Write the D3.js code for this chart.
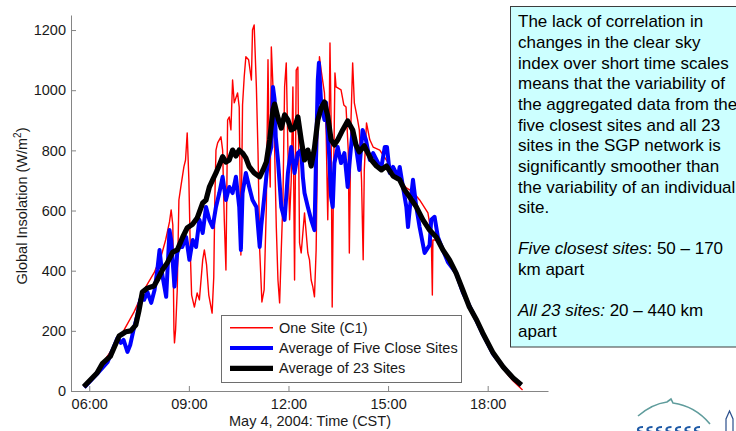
<!DOCTYPE html>
<html>
<head>
<meta charset="utf-8">
<script src="https://cdn.jsdelivr.net/npm/d3@7"></script>
<style>
  body { margin: 0; background: #fff; }
  svg { display: block; font-family: "Liberation Sans", Arial, sans-serif; }
</style>
</head>
<body>
<div id="chart"></div>
<script>
// One Site (C1)
var oneSiteTimes = ["05:51","06:18","06:38","07:03","07:21","07:39","07:58","08:10","08:18","08:25",
  "08:28","08:31","08:33","08:34","08:36","08:39","08:42","08:46","08:51","08:54",
  "08:57","09:00","09:03","09:05","09:10","09:15","09:19","09:25","09:28","09:32",
  "09:36","09:42","09:45","09:47","09:49","09:52","09:58","10:01","10:04","10:07",
  "10:10","10:13","10:16","10:19","10:22","10:28","10:31","10:34","10:37","10:40",
  "10:43","10:48","10:53","10:55","10:58","11:02","11:05","11:08","11:12","11:16",
  "11:20","11:23","11:25","11:27","11:29","11:32","11:35","11:38","11:41","11:44",
  "11:47","11:50","11:53","11:56","11:59","12:02","12:05","12:08","12:11","12:14",
  "12:17","12:20","12:23","12:29","12:35","12:38","12:41","12:44","12:47","12:50",
  "12:53","12:56","12:59","13:05","13:08","13:11","13:13","13:15","13:17","13:19",
  "13:21","13:24","13:26","13:35","13:40","13:44","13:48","13:50","13:53","13:56",
  "13:59","14:05","14:08","14:12","14:15","14:17","14:21","14:27","14:33","14:45",
  "14:57","15:09","15:21","15:33","15:45","15:57","16:12","16:18","16:20","16:21",
  "16:30","16:39","16:51","17:03","17:15","17:27","17:40","17:51","18:10","18:28",
  "18:46","19:03"];
var oneSiteValues = [12,76,130,203,263,336,396,449,502,562,
  602,552,203,160,203,336,635,685,745,768,
  858,702,436,319,279,326,303,436,469,419,
  319,259,379,645,801,825,845,801,569,402,
  901,911,868,1034,958,991,944,452,951,1044,
  1111,1101,1034,1200,1217,1011,791,469,296,336,
  612,1101,801,678,1144,1011,801,545,369,293,
  469,635,1011,1091,801,569,702,1011,369,1067,
  1077,492,459,592,459,436,369,346,313,469,
  901,1111,1067,991,868,569,801,1157,901,279,
  635,1057,1011,1001,951,944,801,459,901,1091,
  958,901,868,702,436,735,891,835,811,801,
  768,735,702,675,662,635,592,525,319,502,
  502,469,429,386,329,279,236,190,120,73,
  33,3];

// Average of Five Close Sites
var fiveSiteTimes = ["05:51","06:14","06:33","06:42","06:51","06:57","07:02","07:09","07:14","07:20",
  "07:27","07:32","07:39","07:45","07:52","07:58","08:03","08:07","08:12","08:19",
  "08:25","08:28","08:34","08:39","08:43","08:48","08:55","09:01","09:07","09:13",
  "09:19","09:25","09:31","09:37","09:43","09:49","09:55","10:01","10:07","10:13",
  "10:19","10:25","10:31","10:34","10:37","10:43","10:49","10:55","11:02","11:08",
  "11:11","11:17","11:23","11:29","11:32","11:35","11:37","11:41","11:47","11:53",
  "11:59","12:05","12:11","12:17","12:23","12:26","12:29","12:35","12:41","12:47",
  "12:50","12:53","12:55","12:59","13:05","13:08","13:14","13:17","13:20","13:23",
  "13:29","13:35","13:41","13:47","13:50","13:56","14:02","14:08","14:14","14:20",
  "14:27","14:33","14:42","14:48","14:54","14:58","15:03","15:09","15:18","15:21",
  "15:27","15:33","15:36","15:39","15:45","15:51","15:57","16:06","16:15","16:18",
  "16:24","16:30","16:39","16:48","17:03","17:15","17:27","17:40","17:51","18:10",
  "18:28","18:46","19:00"];
var fiveSiteValues = [12,57,96,136,176,160,170,130,153,203,
  253,303,303,329,293,336,402,469,386,313,
  535,502,347,459,480,479,512,436,502,479,
  569,525,612,569,545,612,658,712,635,678,
  658,712,612,469,658,725,678,635,612,479,
  552,658,768,811,1011,968,845,768,612,569,
  725,811,725,791,801,712,658,612,569,535,
  791,1034,1091,958,901,958,768,645,612,758,
  811,758,791,678,751,868,811,735,868,835,
  768,791,758,745,811,811,725,745,712,745,
  678,612,545,602,702,612,545,459,485,569,
  579,512,469,429,392,329,283,233,190,123,
  80,43,20];

// Average of 23 Sites
var allSiteTimes = ["05:50","06:14","06:24","06:38","06:54","07:06","07:15","07:24","07:30","07:36",
  "07:45","07:57","08:03","08:12","08:21","08:31","08:39","08:49","08:57","09:07",
  "09:15","09:25","09:31","09:37","09:43","09:49","09:55","10:01","10:07","10:13",
  "10:19","10:25","10:31","10:37","10:43","10:49","10:58","11:08","11:14","11:20",
  "11:26","11:32","11:35","11:41","11:47","11:53","11:59","12:05","12:11","12:17",
  "12:23","12:29","12:35","12:41","12:47","12:53","12:59","13:05","13:11","13:17",
  "13:23","13:29","13:38","13:47","13:56","14:02","14:08","14:17","14:30","14:39",
  "14:48","14:57","15:09","15:21","15:30","15:39","15:51","16:03","16:15","16:27",
  "16:39","16:51","17:03","17:15","17:27","17:40","17:51","18:10","18:28","18:46",
  "19:01"];
var allSiteValues = [14,60,92,115,183,197,200,219,269,329,
  342,349,369,402,426,462,469,512,542,555,
  575,625,635,678,702,725,751,779,761,768,
  801,781,801,791,775,746,725,712,735,761,
  835,934,954,908,874,918,901,868,874,911,
  835,768,801,748,808,901,941,961,914,835,
  818,835,868,898,868,818,795,815,768,748,
  735,748,715,702,668,645,612,569,535,512,
  469,436,392,336,279,236,193,126,80,43,
  20];

var seriesNames = ["One Site (C1)", "Average of Five Close Sites", "Average of 23 Sites"];
var seriesColors = ["#ff0000", "#0000ff", "#000000"];
var seriesWidths = [1.4, 4, 5.2];
var xTickLabels = ["06:00", "09:00", "12:00", "15:00", "18:00"];
var yTickValues = [0, 200, 400, 600, 800, 1000, 1200];

var noteLines = [
  [["The lack of correlation in", false]],
  [["changes in the clear sky", false]],
  [["index over short time scales", false]],
  [["means that the variability of", false]],
  [["the aggregated data from the", false]],
  [["five closest sites and all 23", false]],
  [["sites in the SGP network is", false]],
  [["significantly smoother than", false]],
  [["the variability of an individual", false]],
  [["site.", false]],
  [],
  [["Five closest sites", true], [": 50 \u2013 170", false]],
  [["km apart", false]],
  [],
  [["All 23 sites:", true], [" 20 \u2013 440 km", false]],
  [["apart", false]]
];

var width = 736, height = 431;
var parseTime = d3.timeParse("%H:%M");

var svg = d3.select("#chart").append("svg")
  .attr("width", width)
  .attr("height", height);

svg.append("rect").attr("width", width).attr("height", height).attr("fill", "#fff");

//Scales
var x = d3.scaleTime()
  .domain([parseTime("05:27"), parseTime("19:49")])
  .range([71, 548]);
var y = d3.scaleLinear()
  .domain([0, 1250])
  .range([391, 15]);

//Series
var series = [
  d3.zip(oneSiteTimes, oneSiteValues),
  d3.zip(fiveSiteTimes, fiveSiteValues),
  d3.zip(allSiteTimes, allSiteValues)
];

var line = d3.line()
  .x(function (d) { return x(parseTime(d[0])); })
  .y(function (d) { return y(d[1]); });

series.forEach(function (s, i) {
  svg.append("path")
    .datum(s)
    .attr("fill", "none")
    .attr("stroke", seriesColors[i])
    .attr("stroke-width", seriesWidths[i])
    .attr("stroke-linejoin", "round")
    .attr("d", line);
});

//X-Axis
var xAxis = svg.append("g")
  .attr("transform", "translate(0,391)")
  .call(d3.axisBottom(x)
    .tickValues(xTickLabels.map(parseTime))
    .tickFormat(d3.timeFormat("%H:%M"))
    .tickSizeInner(-5)
    .tickSizeOuter(0)
    .tickPadding(8));

//Y-Axis
var yAxis = svg.append("g")
  .attr("transform", "translate(71,0)")
  .call(d3.axisLeft(y)
    .tickValues(yTickValues)
    .tickFormat(d3.format("d"))
    .tickSizeInner(-5)
    .tickSizeOuter(0)
    .tickPadding(5));

[xAxis, yAxis].forEach(function (a) {
  a.select(".domain").attr("stroke", "#858585");
  a.selectAll(".tick line").attr("stroke", "#858585");
  a.selectAll(".tick text")
    .attr("fill", "#1a1a1a")
    .style("font-size", "14.5px")
    .style("font-family", "Liberation Sans, Arial, sans-serif");
});

svg.append("text")
  .attr("x", 310)
  .attr("y", 426)
  .attr("text-anchor", "middle")
  .attr("fill", "#1a1a1a")
  .style("font-size", "14.5px")
  .text("May 4, 2004: Time (CST)");

var yLabel = svg.append("text")
  .attr("transform", "translate(27,206) rotate(-90)")
  .attr("text-anchor", "middle")
  .attr("fill", "#1a1a1a")
  .style("font-size", "14.5px");
yLabel.append("tspan").text("Global Insolation (W/m");
yLabel.append("tspan").attr("dy", "-6").style("font-size", "10px").text("2");
yLabel.append("tspan").attr("dy", "6").text(")");

//Legend
var legend = svg.append("g");
legend.append("rect")
  .attr("x", 221.5).attr("y", 315.5)
  .attr("width", 240).attr("height", 67)
  .attr("fill", "#fff")
  .attr("stroke", "#6e6e6e");
seriesNames.forEach(function (name, i) {
  var ly = 327.7 + i * 20.3;
  legend.append("line")
    .attr("x1", 230).attr("x2", 273)
    .attr("y1", ly).attr("y2", ly)
    .attr("stroke", seriesColors[i])
    .attr("stroke-width", seriesWidths[i]);
  legend.append("text")
    .attr("x", 279).attr("y", ly + 5)
    .attr("fill", "#1a1a1a")
    .style("font-size", "14.5px")
    .text(name);
});

//Note box
svg.append("rect")
  .attr("x", 510.5).attr("y", 6.5)
  .attr("width", 240).attr("height", 340.5)
  .attr("fill", "#ccffff")
  .attr("stroke", "#3c3c3c");

var note = svg.append("text")
  .attr("fill", "#000")
  .style("font-size", "17px");
noteLines.forEach(function (parts, i) {
  var t = note.append("tspan").attr("x", 518).attr("y", 27.3 + i * 20.65);
  if (!parts.length) t.text("\u00a0");
  parts.forEach(function (p, j) {
    var s = j === 0 ? t : note.append("tspan");
    s.text(p[0]).style("font-style", p[1] ? "italic" : "normal");
  });
});

//Logo corner
var logo = svg.append("g");
logo.append("path")
  .attr("d", "M638,416 Q652,404 667,402 L671,399 L673,403 Q695,406 710,424")
  .attr("fill", "none").attr("stroke", "#5f9c9c").attr("stroke-width", 1.6);
d3.range(7).forEach(function (i) {
  logo.append("path")
    .attr("d", "M" + (643 + i * 9.5) + ",427 q-5,0 -5,2.5 q0,2.5 5,2.5")
    .attr("fill", "none").attr("stroke", "#1f5aa6").attr("stroke-width", 2.2);
});
logo.append("path")
  .attr("d", "M726,431 L726,419 L729.5,411 L733,419 L733,431")
  .attr("fill", "none").attr("stroke", "#2b4f8c").attr("stroke-width", 1.2);
</script>
</body>
</html>
